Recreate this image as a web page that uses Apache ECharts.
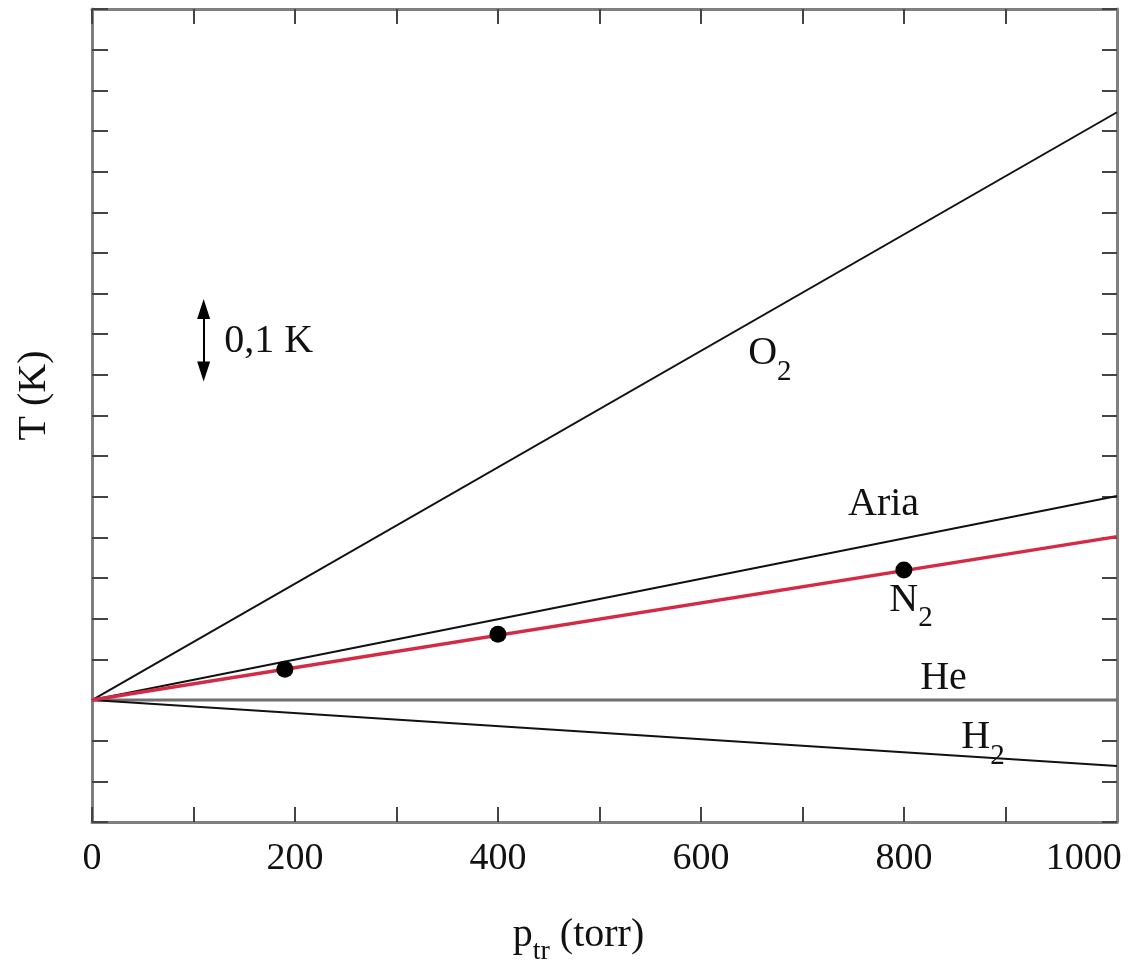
<!DOCTYPE html>
<html>
<head>
<meta charset="utf-8">
<script src="https://cdn.jsdelivr.net/npm/echarts@6/dist/echarts.min.js"></script>
<style>
  html, body { margin: 0; padding: 0; background: #fff; }
  #chart { width: 1138px; height: 963px; }
</style>
</head>
<body>
<div id="chart"></div>
<script>
// pressione (torr) agli estremi delle rette, T relativa a He (K)
const pressure = [0, 1010];
const o2 = [0, 0.723];
const aria = [0, 0.251];
const n2 = [0, 0.201];
const he = [0, 0];
const h2 = [0, -0.081];

// punti misurati sulla retta N2
const n2PointsP = [190, 400, 800];
const n2PointsT = [0.038, 0.081, 0.160];

// tacche dell'asse x (la 1000 cade sul bordo e non si vede)
const xTickValues = [0, 100, 200, 300, 400, 500, 600, 700, 800, 900];
const xLabelValues = [0, 200, 400, 600, 800, 1000];

// etichette delle rette (coordinate nei dati)
const labelNames = ['O2', 'Aria', 'N2', 'He', 'H2', '0,1 K'];
const labelP = [668, 780, 807, 839, 878, 174];
const labelT = [0.426, 0.240, 0.123, 0.027, -0.046, 0.441];

// freccia di scala 0,1 K
const arrowP = 110;
const arrowT = [0.404, 0.481];

const serif = '"Liberation Serif", "DejaVu Serif", serif';
const ink = '#111';
const frameGray = '#7f7f7f';

const chart = echarts.init(document.getElementById('chart'));

const richText = {
  m: { fontFamily: serif, fontSize: 40, color: ink, lineHeight: 66 },
  s: { fontFamily: serif, fontSize: 29, color: ink, verticalAlign: 'bottom' }
};

function richLabel(name) {
  if (name === 'O2') return '{m|O}{s|2}';
  if (name === 'N2') return '{m|N}{s|2}';
  if (name === 'H2') return '{m|H}{s|2}';
  return '{m|' + name + '}';
}

function straight(name, ys, color, width, z) {
  return {
    name: name, type: 'line', z: z || 2,
    data: pressure.map((p, i) => [p, ys[i]]),
    showSymbol: false, symbol: 'none', silent: true,
    lineStyle: { color: color, width: width }
  };
}

// asse "specchio" (in alto / a destra): solo linea e tacche
function mirrorTicks(base, tickExtra) {
  return Object.assign({
    axisLine: { show: true, onZero: false, lineStyle: { color: frameGray, width: 3 } },
    axisTick: Object.assign({ show: true, inside: true, length: 15, lineStyle: { color: '#444', width: 2 } }, tickExtra || {}),
    axisLabel: { show: false },
    splitLine: { show: false }
  }, base);
}

const heSeries = straight('He', he, '#6f6f6f', 3, 2);
heSeries.markLine = {
  silent: true,
  symbol: ['triangle', 'triangle'],
  symbolSize: [13, 20],
  label: { show: false },
  lineStyle: { color: '#000', width: 2, type: 'solid' },
  data: [[{ coord: [arrowP, arrowT[0]] }, { coord: [arrowP, arrowT[1]] }]]
};

const option = {
  backgroundColor: '#ffffff',
  animation: false,
  grid: { left: 92, right: 21, top: 9, bottom: 141, containLabel: false, outerBoundsMode: 'none' },
  xAxis: [
    {
      type: 'value', min: 0, max: 1010, interval: 100, position: 'bottom',
      axisLine: { show: true, onZero: false, lineStyle: { color: frameGray, width: 3 } },
      axisTick: { show: true, inside: true, length: 15, customValues: xTickValues, lineStyle: { color: '#444', width: 2 } },
      splitLine: { show: false },
      axisLabel: {
        customValues: xLabelValues,
        margin: 18, color: ink, fontFamily: serif, fontSize: 38,
        formatter: v => (v === 1000 ? '{e|1000}' : String(v)),
        rich: { e: { fontFamily: serif, fontSize: 38, color: ink, padding: [0, 46, 0, 0] } }
      },
      name: '{m|p}{s|tr}{m| (torr)}',
      nameLocation: 'middle', nameGap: 82,
      nameTextStyle: {
        padding: [0, 52, 0, 0],
        rich: {
          m: { fontFamily: serif, fontSize: 40, color: ink, lineHeight: 62 },
          s: { fontFamily: serif, fontSize: 28, color: ink, verticalAlign: 'bottom' }
        }
      }
    },
    mirrorTicks({ type: 'value', min: 0, max: 1010, interval: 100, position: 'top' }, { customValues: xTickValues })
  ],
  yAxis: [
    {
      type: 'value', min: -0.15, max: 0.85, interval: 0.05, position: 'left',
      axisLine: { show: true, onZero: false, lineStyle: { color: frameGray, width: 3 } },
      axisTick: { show: true, inside: true, length: 16, lineStyle: { color: '#444', width: 2 } },
      axisLabel: { show: false },
      splitLine: { show: false },
      name: 'T (K)', nameLocation: 'middle', nameGap: 38,
      nameTextStyle: { fontFamily: serif, fontSize: 40, color: ink, padding: [0, 0, 0, 40] }
    },
    mirrorTicks({ type: 'value', min: -0.15, max: 0.85, interval: 0.05, position: 'right' })
  ],
  series: [
    straight('O2', o2, ink, 2),
    straight('Aria', aria, ink, 2),
    heSeries,
    straight('H2', h2, ink, 2),
    straight('N2', n2, '#d42a45', 3.5, 3),
    {
      name: 'N2 misure', type: 'scatter', z: 5, silent: true,
      symbol: 'circle', symbolSize: 17,
      itemStyle: { color: '#000', opacity: 1 },
      data: n2PointsP.map((p, i) => [p, n2PointsT[i]])
    },
    {
      name: 'etichette', type: 'scatter', z: 6, silent: true,
      symbolSize: 1,
      itemStyle: { color: 'rgba(0,0,0,0)' },
      label: {
        show: true, position: 'inside', color: ink, opacity: 1,
        textBorderWidth: 0,
        formatter: p => richLabel(p.name),
        rich: richText
      },
      data: labelNames.map((n, i) => ({ name: n, value: [labelP[i], labelT[i]] }))
    }
  ]
};

chart.setOption(option);
</script>
</body>
</html>
